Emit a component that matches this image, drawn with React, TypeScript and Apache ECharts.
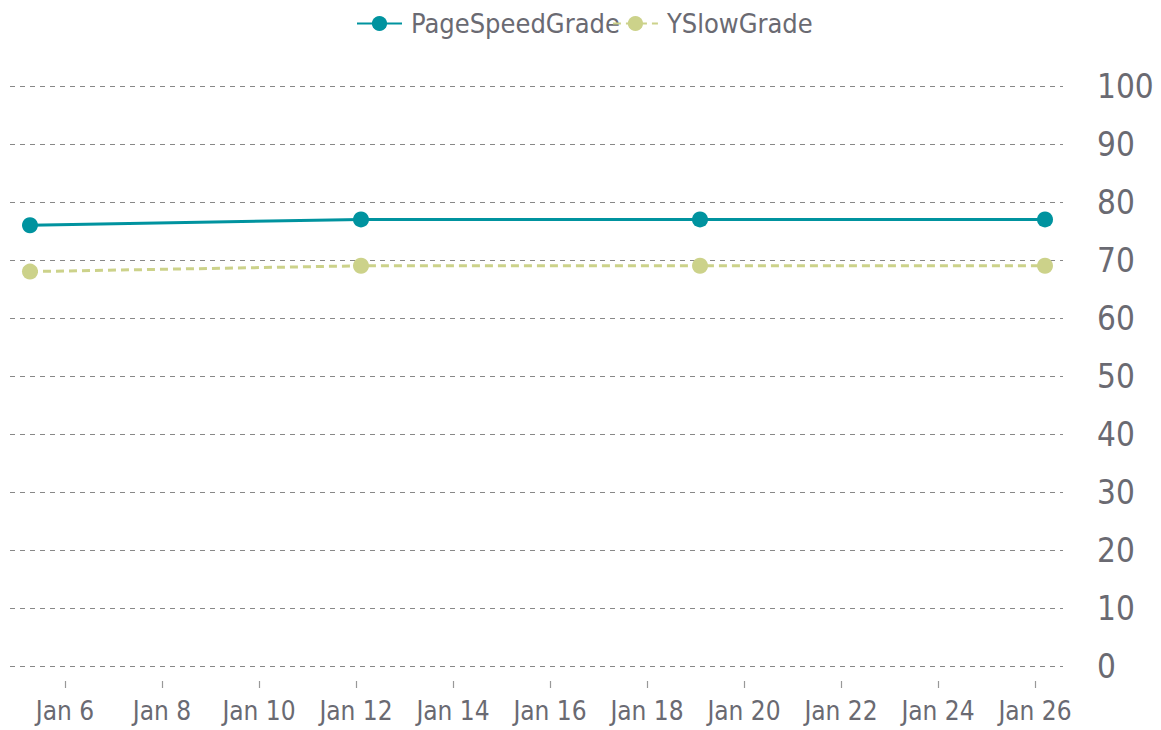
import React, { useEffect, useRef } from "react";
import * as echarts from "echarts";

const seriesNames = ["PageSpeedGrade", "YSlowGrade"];
// day of January (fractional: hours / 24)
const days = [5.278, 12.103, 19.093, 26.206];
const pageSpeed = [76, 77, 77, 77];
const ySlow = [68, 69, 69, 69];
const tickDays = [6, 8, 10, 12, 14, 16, 18, 20, 22, 24, 26];
const axisMin = 4.866;
const axisMax = 26.577;

const FONT = "'DejaVu Sans Condensed', 'DejaVu Sans', sans-serif";
const GREY = "#6a6a72";

export default function App() {
  const ref = useRef<HTMLDivElement>(null);
  useEffect(() => {
    if (!ref.current) return;
    const chart = echarts.init(ref.current, null, { renderer: "svg" });
    chart.setOption({
      animation: false,
      legend: {
        top: 5,
        left: 351,
        itemWidth: 45,
        itemHeight: 19,
        itemGap: -8,
        textStyle: { fontFamily: FONT, fontSize: 27, color: GREY, padding: [0, 0, 0, 4] },
        data: seriesNames,
      },
      grid: { left: 10, right: 98, top: 86, bottom: 64 },
      xAxis: {
        type: "value",
        min: axisMin,
        max: axisMax,
        axisLine: { show: false },
        splitLine: { show: false },
        axisTick: {
          show: true,
          length: 22,
          customValues: tickDays,
          lineStyle: { color: "#999", width: 1.2, type: [0, 15, 7, 40] },
        },
        axisLabel: {
          customValues: tickDays,
          margin: 32,
          fontFamily: FONT,
          fontSize: 26,
          color: GREY,
          formatter: (v: number) => "Jan " + Math.round(v),
        },
      },
      yAxis: {
        type: "value",
        position: "right",
        min: 0,
        max: 100,
        interval: 10,
        axisLine: { show: false },
        axisTick: { show: false },
        axisLabel: { margin: 34, fontFamily: FONT, fontSize: 33, color: GREY },
        splitLine: { lineStyle: { color: "#888", type: [5, 5], width: 1 } },
      },
      series: [
        {
          name: seriesNames[0],
          type: "line",
          data: days.map((d, i) => [d, pageSpeed[i]]),
          symbol: "circle",
          symbolSize: 16,
          itemStyle: { color: "#00939f" },
          lineStyle: { color: "#00939f", width: 3 },
        },
        {
          name: seriesNames[1],
          type: "line",
          data: days.map((d, i) => [d, ySlow[i]]),
          symbol: "circle",
          symbolSize: 16,
          itemStyle: { color: "#ccd28a" },
          lineStyle: { color: "#ccd28a", width: 3, type: [8, 5] },
        },
      ],
    });
    return () => chart.dispose();
  }, []);
  return <div ref={ref} style={{ width: 1161, height: 730, position: "absolute", left: 0, top: 0 }} />;
}
